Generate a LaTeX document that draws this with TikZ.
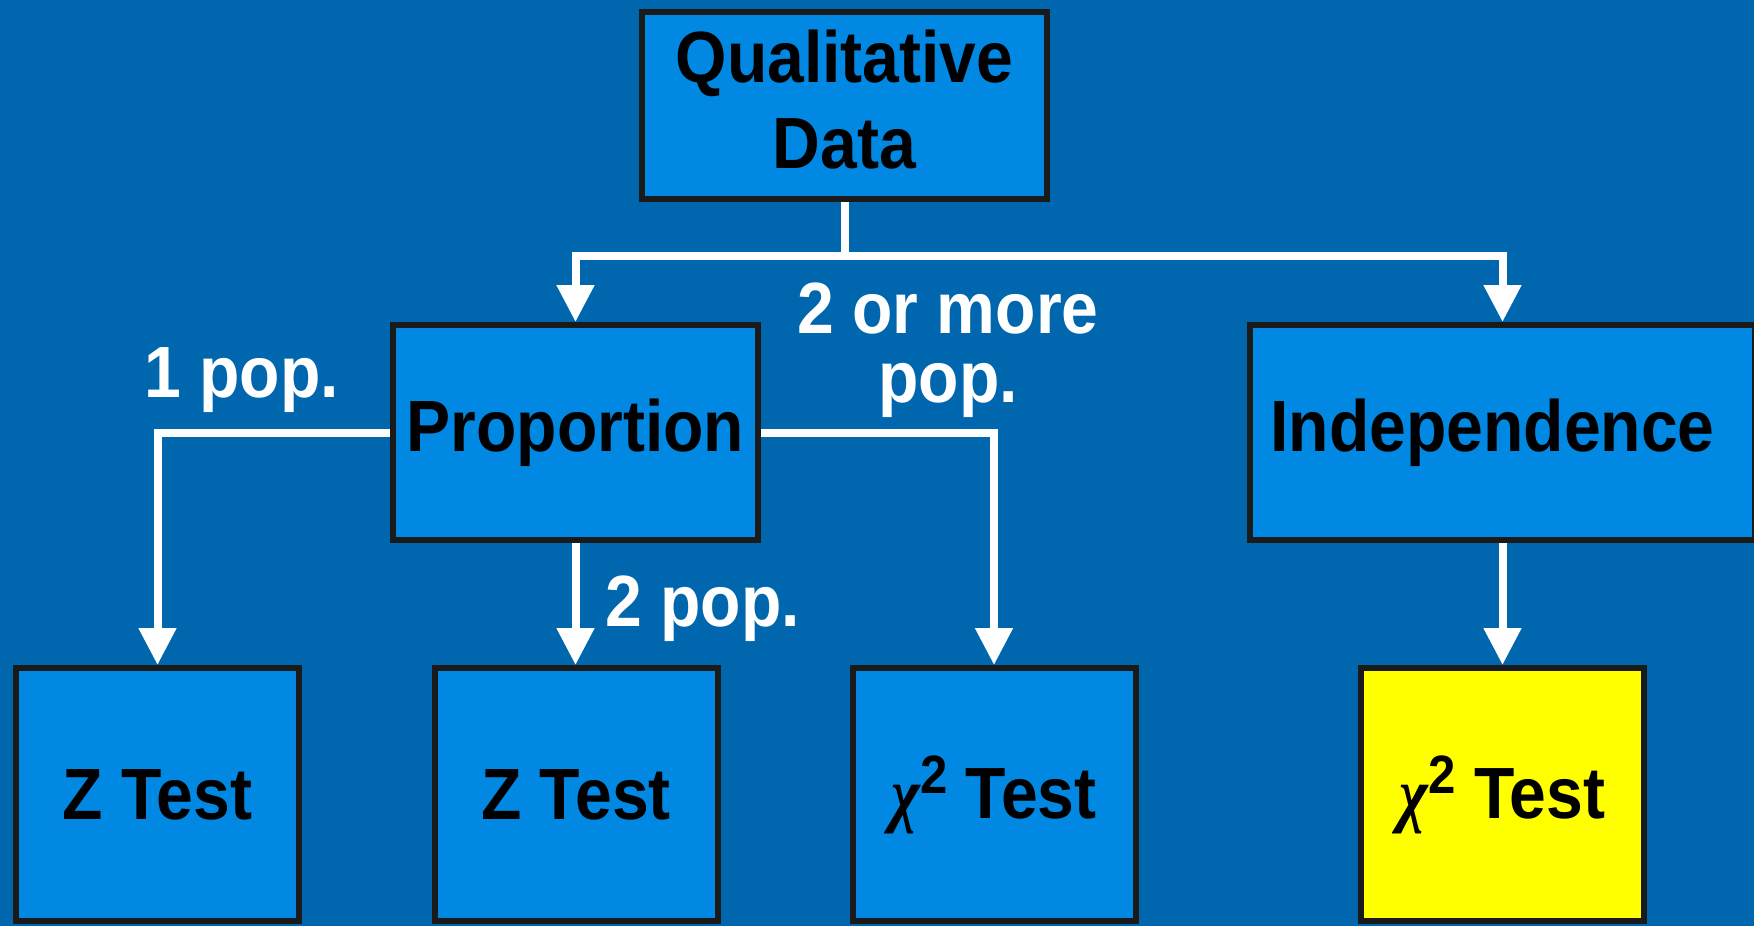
\documentclass[tikz,border=0pt]{standalone}
\usepackage{fontspec}
\setmainfont{Liberation Sans}[FakeStretch=0.91]
\newfontfamily\chifont{Liberation Serif}[FakeStretch=0.85]
\usetikzlibrary{arrows.meta}
\definecolor{bgblue}{RGB}{0,102,174}
\definecolor{boxblue}{RGB}{0,136,226}
\definecolor{boxline}{RGB}{26,26,26}
\definecolor{hiyellow}{RGB}{255,255,0}
\pgfdeclarelayer{bg}\pgfdeclarelayer{lines}\pgfsetlayers{bg,lines,main}
\newcommand{\chisq}{{\chifont\itshape χ}\raisebox{12.5pt}{\fontsize{27pt}{27pt}\selectfont 2}}
\begin{document}
\begin{tikzpicture}[x=0.5pt,y=-0.5pt,
 box/.style={draw=boxline, line width=3pt, fill=boxblue, inner sep=0pt, align=center, font=\bfseries\fontsize{36.3pt}{43pt}\selectfont},
 conn/.style={draw=white, line width=4pt},
 arr/.style={conn, -{Triangle[length=18.5pt,width=18pt]}},
 lbl/.style={text=white, inner sep=0pt, align=center, font=\bfseries\fontsize{36.3pt}{34.5pt}\selectfont}]
\begin{pgfonlayer}{bg}
\fill[bgblue] (0,0) rectangle (1754,926);
\end{pgfonlayer}
\useasboundingbox (0,0) rectangle (1754,926);
\node[box, minimum width=202.5pt, minimum height=93.5pt] (qd) at (844.5,105.5) {Qualitative\\Data\rule[-6pt]{0pt}{1pt}};
\node[box, minimum width=182.5pt, minimum height=107.5pt] (prop) at (575.5,432.5) {Proportion};
\node[box, minimum width=252.5pt, minimum height=107.5pt] (ind) at (1502.5,432.5) {Independence\hspace*{10pt}};
\node[box, minimum width=141.5pt, minimum height=126.5pt] (z1) at (157.5,794.5) {Z Test};
\node[box, minimum width=141.5pt, minimum height=126.5pt] (z2) at (576,794.5) {Z Test};
\node[box, minimum width=141.5pt, minimum height=126.5pt] (chi) at (994,794.5) {\chisq\ Test};
\node[box, fill=hiyellow, minimum width=141.5pt, minimum height=126.5pt] (chiy) at (1502.5,794.5) {\chisq\ Test};
\node[lbl, anchor=base] (l1) at (241.5,397) {1 pop.};
\node[lbl, anchor=base] (l2) at (702.5,626) {2 pop.};
\node[lbl, anchor=base] (l3) at (948,402) {2 or more\\pop.};
\begin{pgfonlayer}{lines}
\coordinate (split) at (844.5,256);
\draw[conn] (qd.south) -- (split);
\draw[arr] (split) -| (prop.north);
\draw[arr] (split) -| (ind.north);
\draw[arr] (prop.west) -| (z1.north);
\draw[arr] (prop.east) -| (chi.north);
\draw[arr] (prop.south) -- (prop.south |- z2.north);
\draw[arr] (ind.south) -- (chiy.north);
\end{pgfonlayer}
\end{tikzpicture}
\end{document}
